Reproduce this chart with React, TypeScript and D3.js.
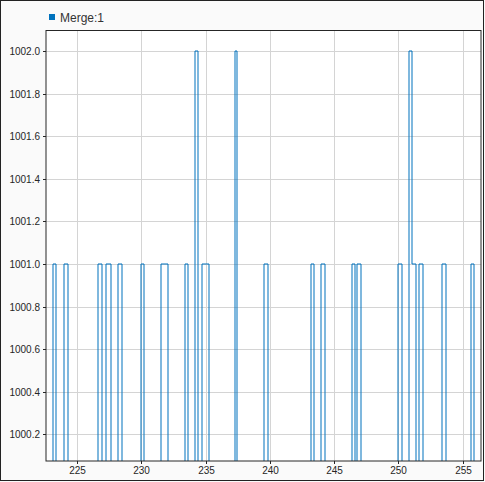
import React from "react";
import * as d3 from "d3";

// Step signal: value holds from each time until the next
const stepTimes = [
  222.0,
  223.15, 223.38,
  223.97, 224.28,
  226.61, 226.92,
  227.24, 227.6,
  228.17, 228.48,
  229.99, 230.22,
  231.55, 232.06,
  233.42, 233.65,
  234.2, 234.43,
  234.74, 235.25,
  237.27, 237.46,
  239.56, 239.83,
  243.22, 243.45,
  243.99, 244.27,
  246.4, 246.63,
  246.79, 247.06,
  249.98, 250.25,
  250.84, 251.03, 251.38,
  251.61, 251.89,
  253.4, 253.67,
  255.62, 255.89,
  257.0,
];
const stepValues = [
  1000,
  1001, 1000,
  1001, 1000,
  1001, 1000,
  1001, 1000,
  1001, 1000,
  1001, 1000,
  1001, 1000,
  1001, 1000,
  1002, 1000,
  1001, 1000,
  1002, 1000,
  1001, 1000,
  1001, 1000,
  1001, 1000,
  1001, 1000,
  1001, 1000,
  1001, 1000,
  1002, 1001, 1000,
  1001, 1000,
  1001, 1000,
  1001, 1000,
  1000,
];
const xTicks = [225, 230, 235, 240, 245, 250, 255];
const yTicks = [1000.2, 1000.4, 1000.6, 1000.8, 1001.0, 1001.2, 1001.4, 1001.6, 1001.8, 1002.0];
const seriesName = "Merge:1";

const W = 485, H = 482;
const L = 46, R = 481, T = 30.5, B = 461;

export default function App() {
  const x = d3.scaleLinear().domain([222.57, 256.42]).range([L, R]);
  const y = d3.scaleLinear().domain([1000.075, 1002.097]).range([B, T]);
  const px = (v: number) => Math.round(x(v));
  const py = (v: number) => Math.round(y(v));

  // build step segments
  const segs: { x1: number; y1: number; x2: number; y2: number }[] = [];
  for (let i = 0; i < stepTimes.length - 1; i++) {
    const xa = px(stepTimes[i]), xb = px(stepTimes[i + 1]);
    const ya = py(stepValues[i]);
    segs.push({ x1: xa, y1: ya, x2: xb, y2: ya });
    const yb = py(stepValues[i + 1]);
    if (yb !== ya) segs.push({ x1: xb, y1: ya, x2: xb, y2: yb });
  }

  return (
    <svg
      width={W}
      height={H}
      style={{ position: "absolute", left: 0, top: 0, display: "block" }}
      fontFamily="'Liberation Sans', Arial, sans-serif"
    >
      <defs>
        <clipPath id="plotclip">
          <rect x={L} y={T} width={R - L} height={B - T} />
        </clipPath>
      </defs>
      <rect x={0} y={0} width={W} height={H} fill="#fafafa" />
      <rect x={0.5} y={0.5} width={483} height={480} fill="none" stroke="#222" strokeWidth={1} />
      <rect x={L} y={T} width={R - L} height={B - T} fill="#ffffff" />
      {xTicks.map((t) => (
        <line key={"gx" + t} x1={px(t) + 0.5} x2={px(t) + 0.5} y1={T} y2={B} stroke="#d4d4d4" strokeWidth={1} />
      ))}
      {yTicks.map((t) => (
        <line key={"gy" + t} x1={L} x2={R} y1={py(t) + 0.5} y2={py(t) + 0.5} stroke="#d4d4d4" strokeWidth={1} />
      ))}
      <g clipPath="url(#plotclip)">
        {segs.map((s, i) => (
          <line
            key={i}
            x1={s.x1}
            y1={s.y1}
            x2={s.x2}
            y2={s.y2}
            stroke="#0072BD"
            strokeOpacity={0.5}
            strokeWidth={2}
          />
        ))}
      </g>
      <rect x={L} y={T} width={R - L} height={B - T} fill="none" stroke="#262626" strokeWidth={1} />
      {yTicks.map((t) => (
        <g key={"ty" + t}>
          <line x1={L - 3} x2={L} y1={py(t) + 0.5} y2={py(t) + 0.5} stroke="#262626" />
          <text x={L - 6} y={py(t) + 4} fontSize={10} textAnchor="end" fill="#262626">
            {t.toFixed(1)}
          </text>
        </g>
      ))}
      {xTicks.map((t) => (
        <g key={"tx" + t}>
          <line x1={px(t) + 0.5} x2={px(t) + 0.5} y1={B} y2={B + 3} stroke="#262626" />
          <text x={px(t) + 0.5} y={B + 12.5} fontSize={10} textAnchor="middle" fill="#262626">
            {t}
          </text>
        </g>
      ))}
      <rect x={49} y={14} width={6} height={6} fill="#0072BD" />
      <text x={60} y={21.5} fontSize={12} fill="#333">
        {seriesName}
      </text>
    </svg>
  );
}
